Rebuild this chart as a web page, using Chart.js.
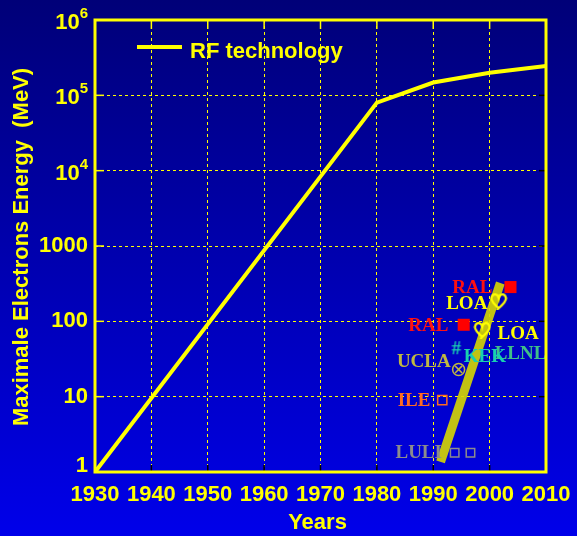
<!DOCTYPE html>
<html>
<head>
<meta charset="utf-8">
<script src="https://cdn.jsdelivr.net/npm/chart.js@4/dist/chart.umd.min.js"></script>
<style>
  html, body { margin: 0; padding: 0; background: #000080; }
  #wrap { width: 577px; height: 536px; }
</style>
</head>
<body>
<div id="wrap"><canvas id="energyChart" width="577" height="536"></canvas></div>
<script>
// RF accelerators curve
const rfYears = [1930, 1980, 1990, 2000, 2010];
const rfEnergy = [1, 80000, 148000, 200000, 245000];

// laser plasma results
const ralYears = [2003.7, 1995.4];
const ralEnergy = [285, 90];
const loaYears = [2001.6, 1998.7];
const loaEnergy = [185, 77];
const kekYears = [1994.1];
const kekEnergy = [44];
const uclaYears = [1994.5];
const uclaEnergy = [23];
const ileYears = [1991.6];
const ileEnergy = [9];
const luliYears = [1993.8, 1996.6];
const luliEnergy = [1.8, 1.8];
const trendYears = [1991.3, 2001.9];
const trendEnergy = [1.36, 323];

// lab name labels
const labNames = ['RAL', 'LOA', 'RAL', 'LOA', 'LLNL', 'KEK', 'UCLA', 'ILE', 'LULI'];
const labYears = [2000.5, 1999.6, 1992.7, 2001.4, 2000.9, 1995.4, 1993.1, 1989.5, 1983.3];
const labEnergy = [285, 175, 90, 70, 38, 34.7, 29.8, 9, 1.84];

// axes
const xTickValues = [1930, 1940, 1950, 1960, 1970, 1980, 1990, 2000, 2010];
const yTickValues = [1, 10, 100, 1000, 10000, 100000, 1000000];
const yTickLabels = ['1', '10', '100', '1000', '10^4', '10^5', '10^6'];

const YELLOW = '#ffff00';
const labColors = {
    RAL: '#ff1010', LOA: '#ffff00', KEK: '#18d0b0', LLNL: '#40c088',
    UCLA: '#c0b840', ILE: '#ff6a20', LULI: '#8c8c8c'
};
const labAlign = ['right', 'right', 'right', 'left', 'left', 'left', 'right', 'right', 'left'];

function pts(xs, ys) {
    return xs.map((x, i) => ({x: x, y: ys[i]}));
}

// heart marker for LOA
function heartIcon() {
    const c = document.createElement('canvas');
    c.width = 18; c.height = 18;
    const g = c.getContext('2d');
    g.strokeStyle = YELLOW;
    g.lineWidth = 2.2;
    g.beginPath();
    g.moveTo(9, 16);
    g.bezierCurveTo(2, 10, 1, 7, 2, 5);
    g.bezierCurveTo(3, 1, 8, 1, 9, 6);
    g.bezierCurveTo(10, 1, 15, 1, 16, 5);
    g.bezierCurveTo(17, 7, 16, 10, 9, 16);
    g.moveTo(9, 16);
    g.lineTo(7, 18);
    g.stroke();
    return c;
}

// hash marker for KEK
function hashIcon() {
    const c = document.createElement('canvas');
    c.width = 14; c.height = 18;
    const g = c.getContext('2d');
    g.fillStyle = labColors.KEK;
    g.font = 'bold 19px "Liberation Serif"';
    g.textAlign = 'center';
    g.textBaseline = 'middle';
    g.fillText('#', 7, 10);
    return c;
}

const bgPlugin = {
    id: 'bg',
    beforeDraw(chart) {
        const ctx = chart.ctx;
        const grad = ctx.createLinearGradient(0, 0, 0, chart.height);
        grad.addColorStop(0, '#000078');
        grad.addColorStop(1, '#0000ea');
        ctx.save();
        ctx.fillStyle = grad;
        ctx.fillRect(0, 0, chart.width, chart.height);
        ctx.restore();
    }
};

const decorPlugin = {
    id: 'decor',
    afterDatasetsDraw(chart) {
        const ctx = chart.ctx;
        const xs = chart.scales.x, ys = chart.scales.y;
        ctx.save();
        ctx.font = 'bold 19px "Liberation Serif"';
        ctx.textBaseline = 'middle';
        labNames.forEach((name, i) => {
            ctx.fillStyle = labColors[name];
            ctx.textAlign = labAlign[i];
            ctx.fillText(name, xs.getPixelForValue(labYears[i]), ys.getPixelForValue(labEnergy[i]) + 1);
        });
        ctx.restore();
    },
    afterDraw(chart) {
        const ctx = chart.ctx;
        const a = chart.chartArea;
        const xs = chart.scales.x, ys = chart.scales.y;
        ctx.save();

        // small tick marks
        ctx.lineWidth = 1.5;
        yTickValues.forEach(v => {
            const py = ys.getPixelForValue(v);
            ctx.strokeStyle = YELLOW;
            ctx.beginPath(); ctx.moveTo(a.left, py); ctx.lineTo(a.left + 9, py); ctx.stroke();
            ctx.strokeStyle = '#000000';
            ctx.beginPath(); ctx.moveTo(a.right - 7, py); ctx.lineTo(a.right, py); ctx.stroke();
        });
        xTickValues.forEach(v => {
            const px = xs.getPixelForValue(v);
            ctx.strokeStyle = YELLOW;
            ctx.beginPath(); ctx.moveTo(px, a.top); ctx.lineTo(px, a.top + 9); ctx.stroke();
            ctx.strokeStyle = '#000000';
            ctx.beginPath(); ctx.moveTo(px, a.bottom - 7); ctx.lineTo(px, a.bottom); ctx.stroke();
        });

        // frame
        ctx.strokeStyle = YELLOW;
        ctx.lineWidth = 3;
        ctx.strokeRect(a.left, a.top, a.right - a.left, a.bottom - a.top);

        // y tick labels with superscripts
        ctx.fillStyle = YELLOW;
        ctx.textBaseline = 'middle';
        ctx.textAlign = 'right';
        yTickValues.forEach((v, i) => {
            const py = ys.getPixelForValue(v);
            const lab = yTickLabels[i];
            const rx = a.left - 7;
            if (lab.indexOf('^') >= 0) {
                const parts = lab.split('^');
                ctx.font = 'bold 15px "Liberation Sans"';
                const ew = ctx.measureText(parts[1]).width;
                ctx.fillText(parts[1], rx, py - 6);
                ctx.font = 'bold 22px "Liberation Sans"';
                ctx.fillText(parts[0], rx - ew, py + 3);
            } else {
                ctx.font = 'bold 22px "Liberation Sans"';
                ctx.fillText(lab, rx, v === 1 ? py - 6 : py);
            }
        });

        // axis titles
        ctx.font = 'bold 22px "Liberation Sans"';
        ctx.textAlign = 'center';
        ctx.fillText('Years', (a.left + a.right) / 2 - 3, 523);
        ctx.save();
        ctx.translate(22, 247);
        ctx.rotate(-Math.PI / 2);
        ctx.font = 'bold 22px "Liberation Sans"';
        ctx.fillText('Maximale Electrons Energy  (MeV)', 0, 0);
        ctx.restore();

        // legend
        ctx.strokeStyle = YELLOW;
        ctx.lineWidth = 4;
        ctx.beginPath(); ctx.moveTo(137, 47); ctx.lineTo(182, 47); ctx.stroke();
        ctx.font = 'bold 22px "Liberation Sans"';
        ctx.textAlign = 'left';
        ctx.textBaseline = 'alphabetic';
        ctx.fillText(chart.data.datasets[0].label, 190, 58);
        ctx.restore();
    }
};

const heart = heartIcon();
const hash = hashIcon();

new Chart(document.getElementById('energyChart'), {
    type: 'scatter',
    data: {
        datasets: [
            {
                label: 'RF technology',
                data: pts(rfYears, rfEnergy),
                showLine: true,
                borderColor: YELLOW,
                borderWidth: 4,
                pointRadius: 0,
                order: 1
            },
            {
                label: 'RAL',
                data: pts(ralYears, ralEnergy),
                pointStyle: 'rect',
                pointRadius: 8.5,
                backgroundColor: '#ff0000',
                borderColor: '#ff0000',
                borderWidth: 0,
                order: 2
            },
            {
                label: 'LOA',
                data: pts(loaYears, loaEnergy),
                pointStyle: heart,
                order: 3
            },
            {
                label: 'KEK',
                data: pts(kekYears, kekEnergy),
                pointStyle: hash,
                order: 4
            },
            {
                label: 'UCLA circle',
                data: pts(uclaYears, uclaEnergy),
                pointStyle: 'circle',
                pointRadius: 6,
                backgroundColor: 'rgba(0,0,0,0)',
                borderColor: labColors.UCLA,
                borderWidth: 1.5,
                order: 5
            },
            {
                label: 'UCLA cross',
                data: pts(uclaYears, uclaEnergy),
                pointStyle: 'crossRot',
                pointRadius: 5,
                borderColor: labColors.UCLA,
                borderWidth: 1.5,
                order: 5
            },
            {
                label: 'ILE',
                data: pts(ileYears, ileEnergy),
                pointStyle: 'rect',
                pointRadius: 6.5,
                backgroundColor: 'rgba(0,0,0,0)',
                borderColor: labColors.ILE,
                borderWidth: 1.5,
                order: 6
            },
            {
                label: 'LULI',
                data: pts(luliYears, luliEnergy),
                pointStyle: 'rect',
                pointRadius: 6,
                backgroundColor: 'rgba(0,0,0,0)',
                borderColor: labColors.LULI,
                borderWidth: 1.5,
                order: 7
            },
            {
                label: 'trend',
                data: pts(trendYears, trendEnergy),
                showLine: true,
                borderColor: 'rgba(215,215,0,0.9)',
                borderWidth: 9,
                borderCapStyle: 'butt',
                pointRadius: 0,
                order: 10
            }
        ]
    },
    options: {
        responsive: false,
        animation: false,
        layout: {padding: {top: 20, right: 31, left: 0, bottom: 0}},
        plugins: {
            legend: {display: false},
            tooltip: {enabled: false}
        },
        scales: {
            x: {
                type: 'linear',
                min: 1930,
                max: 2010,
                afterFit: s => { s.height = 64; s.paddingLeft = 0; s.paddingRight = 0; },
                afterBuildTicks: s => { s.ticks = xTickValues.map(v => ({value: v})); },
                ticks: {
                    color: YELLOW,
                    font: {family: 'Liberation Sans', size: 22, weight: 'bold'},
                    padding: 10,
                    maxRotation: 0,
                    autoSkip: false,
                    callback: v => String(v)
                },
                grid: {color: YELLOW, lineWidth: 1, drawTicks: false},
                border: {display: false, dash: [3, 3]}
            },
            y: {
                type: 'logarithmic',
                min: 1,
                max: 1000000,
                afterFit: s => { s.width = 95; s.paddingTop = 0; s.paddingBottom = 0; },
                afterBuildTicks: s => { s.ticks = yTickValues.map(v => ({value: v})); },
                ticks: {display: false},
                grid: {color: YELLOW, lineWidth: 1, drawTicks: false},
                border: {display: false, dash: [3, 3]}
            }
        }
    },
    plugins: [bgPlugin, decorPlugin]
});
</script>
</body>
</html>
